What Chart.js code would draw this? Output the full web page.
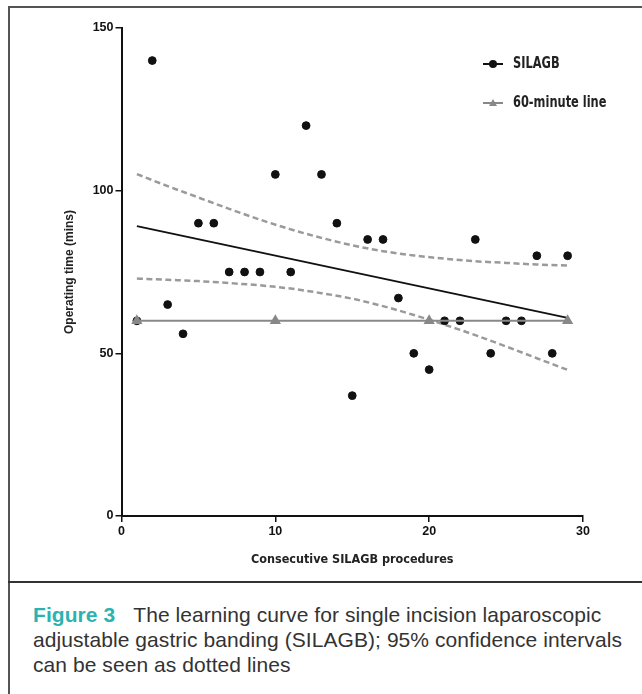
<!DOCTYPE html>
<html><head><meta charset="utf-8">
<script src="https://cdn.jsdelivr.net/npm/chart.js@4"></script>
<style>
html,body{margin:0;padding:0;background:#fff;}
body{width:642px;height:694px;overflow:hidden;position:relative;}
#wrap{position:absolute;left:0;top:0;width:642px;height:580px;}
.fl{position:absolute;left:8px;top:6px;width:2px;height:688px;background:#555;}
.ft{position:absolute;left:8px;top:6px;width:634px;height:2px;background:#555;}
.dv{position:absolute;left:8px;top:581px;width:634px;height:2px;background:#333;}
.lg{position:absolute;left:483px;height:20px;width:150px;}
.lg .ln{position:absolute;left:0;top:9px;width:20px;height:2px;}
.lg .tx{position:absolute;left:30px;top:0;line-height:20px;font:bold 15px "DejaVu Sans Condensed","Liberation Sans",sans-serif;color:#222;white-space:nowrap;transform:scaleX(0.845);transform-origin:0 50%;}
.dot{position:absolute;left:6px;top:6px;width:8px;height:8px;border-radius:50%;background:#111;}
.tri{position:absolute;left:6px;top:6px;width:0;height:0;border-left:4px solid transparent;border-right:4px solid transparent;border-bottom:7px solid #888;}
#cap{position:absolute;left:33px;top:602px;font:21px/25px "Liberation Sans",Arial,sans-serif;color:#333;white-space:nowrap;}
#cap .fig{color:#2bb3b1;font-weight:bold;margin-right:18px;}
</style>
</head><body>
<div class="fl"></div><div class="ft"></div><div class="dv"></div>
<div id="wrap"><canvas id="c"></canvas></div>
<div class="lg" style="top:54px"><div class="ln" style="background:#111"></div><div class="dot"></div><div class="tx">SILAGB</div></div>
<div class="lg" style="top:93px"><div class="ln" style="background:#888"></div><div class="tri"></div><div class="tx">60-minute line</div></div>
<div id="cap"><span class="fig">Figure 3</span>The learning curve for single incision laparoscopic<br><span id="l2">adjustable gastric banding (SILAGB); 95% confidence intervals</span><br>can be seen as dotted lines</div>
<script>
// ---- data ----
const procedures = [1,2,3,4,5,6,7,8,9,10,11,12,13,14,15,16,17,18,19,20,21,22,23,24,25,26,27,28,29];
const operatingTimes = [60,140,65,56,90,90,75,75,75,105,75,120,105,90,37,85,85,67,50,45,60,60,85,50,60,60,80,50,80];
const sixtyX = [1,10,20,29];
const sixtyY = [60,60,60,60];
const fitX = [1,29];
const fitY = [89.1,60.9];
const ciX = [1,3,5,7,9,11,13,15,17,19,21,23,25,27,29];
const ciUpper = [105.1,101.4,97.9,94.4,91.1,88.1,85.5,83.2,81.4,80.1,79.1,78.3,77.8,77.3,77.0];
const ciLower = [73.0,72.6,72.2,71.6,70.9,69.9,68.5,66.8,64.5,61.8,58.8,55.6,52.1,48.5,44.9];
const xTicks = [0,10,20,30];
const yTicks = [0,50,100,150];

const pts = (xs, ys) => xs.map((x,i)=>({x:x,y:ys[i]}));

// fit caption line width
(function(){
  const l2 = document.getElementById('l2');
  const w = l2.getBoundingClientRect().width;
  const target = 589;
  const n = l2.textContent.length;
  document.getElementById('cap').style.letterSpacing = ((target - w)/n).toFixed(3)+'px';
})();

const tickFont = {family:'"Liberation Sans",Arial,sans-serif', weight:'bold', size:12.5};

new Chart(document.getElementById('c'), {
  type:'scatter',
  data:{datasets:[
    {label:'60-minute line', data:pts(sixtyX,sixtyY), showLine:true, borderColor:'#888', backgroundColor:'#888', borderWidth:2, pointStyle:'triangle', pointRadius:4.5, order:0},
    {label:'SILAGB', data:pts(procedures,operatingTimes), showLine:false, backgroundColor:'#111', borderColor:'#111', pointRadius:3.9, order:1},
    {label:'fit', data:pts(fitX,fitY), showLine:true, borderColor:'#111', borderWidth:2, pointRadius:0, order:2},
    {label:'upper', data:pts(ciX,ciUpper), showLine:true, borderColor:'#9a9a9a', borderWidth:2.5, borderDash:[6,3.5], pointRadius:0, cubicInterpolationMode:'monotone', order:3},
    {label:'lower', data:pts(ciX,ciLower), showLine:true, borderColor:'#9a9a9a', borderWidth:2.5, borderDash:[6,3.5], pointRadius:0, cubicInterpolationMode:'monotone', order:3}
  ]},
  options:{
    responsive:true, maintainAspectRatio:false, animation:false,
    layout:{padding:{left:62,top:28,right:59,bottom:0}},
    plugins:{legend:{display:false}, tooltip:{enabled:false}},
    scales:{
      x:{type:'linear', min:0, max:30,
        afterBuildTicks:(s)=>{s.ticks = xTicks.map(v=>({value:v}));},
        afterFit:(s)=>{s.height = 64;},
        ticks:{color:'#111', font:tickFont, padding:2, maxRotation:0},
        grid:{display:true, drawOnChartArea:false, drawTicks:true, tickLength:6, color:'#111', lineWidth:1.5},
        border:{display:true, color:'#111', width:2},
        title:{display:true, text:'Consecutive SILAGB procedures', color:'#222', font:{family:'"DejaVu Sans Condensed","Liberation Sans",sans-serif', weight:'bold', size:12.5}, padding:{top:4,bottom:13}}
      },
      y:{type:'linear', min:0, max:150,
        afterBuildTicks:(s)=>{s.ticks = yTicks.map(v=>({value:v}));},
        afterFit:(s)=>{s.width = 59.5;},
        ticks:{color:'#111', font:tickFont, padding:2},
        grid:{display:true, drawOnChartArea:false, drawTicks:true, tickLength:6, color:'#111', lineWidth:1.5},
        border:{display:true, color:'#111', width:2},
        title:{display:true, text:'Operating time (mins)', color:'#222', font:{family:'"Liberation Sans",Arial,sans-serif', weight:'bold', size:12}, padding:{top:0,bottom:0}}
      }
    }
  }
});
</script>
</body></html>
